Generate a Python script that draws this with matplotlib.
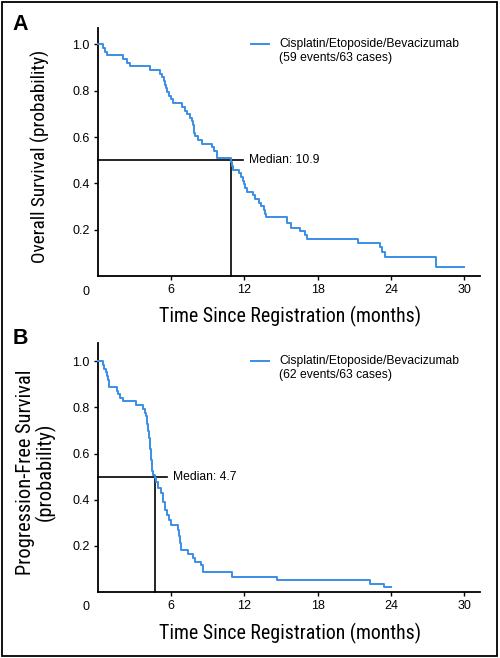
import matplotlib
matplotlib.use("Agg")
import matplotlib.pyplot as plt
import matplotlib.font_manager as fm
from matplotlib.font_manager import FontProperties
from matplotlib.patches import Rectangle

# ---------------- data ----------------
os_time = [0.46, 0.6, 0.8, 2.1, 2.4, 2.65, 4.3, 5.1, 5.25, 5.4, 5.5, 5.6, 5.7,
           5.85, 6.0, 6.2, 6.87, 7.14, 7.33, 7.55, 7.68, 7.78, 7.85, 7.9, 7.95,
           8.23, 8.5, 9.33, 9.55, 9.73, 9.8, 10.9, 11.0, 11.1, 11.6, 11.75,
           11.9, 12.0, 12.1, 12.2, 12.7, 12.9, 13.2, 13.4, 13.6, 13.7, 13.8,
           15.5, 15.8, 16.55, 16.96, 17.1, 21.33, 23.1, 23.24, 23.5, 27.68]
os_surv = [0.984, 0.968, 0.952, 0.937, 0.921, 0.905, 0.889, 0.873, 0.857, 0.841,
           0.825, 0.810, 0.794, 0.778, 0.762, 0.746, 0.730, 0.714, 0.698, 0.683,
           0.667, 0.651, 0.635, 0.619, 0.603, 0.587, 0.571, 0.556, 0.540, 0.524,
           0.508, 0.492, 0.476, 0.460, 0.444, 0.428, 0.412, 0.397, 0.381, 0.365,
           0.349, 0.333, 0.317, 0.302, 0.286, 0.270, 0.254, 0.228, 0.207, 0.193,
           0.178, 0.161, 0.145, 0.128, 0.106, 0.082, 0.041]
os_end = 30.0

pfs_time = [0.46, 0.55, 0.65, 0.75, 0.82, 0.92, 1.6, 1.7, 1.82, 2.04, 3.13, 3.73,
            3.9, 3.97, 4.0, 4.04, 4.08, 4.12, 4.16, 4.2, 4.25, 4.29, 4.33, 4.37,
            4.42, 4.48, 4.55, 4.7, 4.77, 4.96, 5.18, 5.32, 5.51, 5.7, 5.86, 5.97,
            6.6, 6.68, 6.75, 6.82, 7.42, 7.82, 7.96, 8.43, 8.6, 10.96, 14.65,
            22.28, 23.46]
pfs_surv = [0.984, 0.968, 0.952, 0.937, 0.921, 0.889, 0.873, 0.857, 0.841, 0.826,
            0.810, 0.794, 0.778, 0.762, 0.746, 0.730, 0.714, 0.698, 0.683, 0.667,
            0.635, 0.619, 0.587, 0.571, 0.540, 0.524, 0.508, 0.492, 0.476, 0.45,
            0.43, 0.39, 0.355, 0.333, 0.312, 0.290, 0.268, 0.240, 0.210, 0.181,
            0.164, 0.148, 0.131, 0.115, 0.085, 0.065, 0.051, 0.033, 0.019]
pfs_end = 24.0

x_ticks = [6, 12, 18, 24, 30]
y_ticks = [0.2, 0.4, 0.6, 0.8, 1.0]
y_ticklabels = ["0.2", "0.4", "0.6", "0.8", "1.0"]

os_median = 10.9
pfs_median = 4.7
legend_name = "Cisplatin/Etoposide/Bevacizumab"
os_counts = "(59 events/63 cases)"
pfs_counts = "(62 events/63 cases)"
xlabel_text = "Time Since Registration (months)"
os_ylabel = "Overall Survival (probability)"
pfs_ylabel = ["Progression-Free Survival", "(probability)"]

# ---------------- styling ----------------
BLUE = "#3a8ee6"
W, H = 500, 658
fig = plt.figure(figsize=(W / 100, H / 100), dpi=100)
fig.patch.set_facecolor("white")
SANS = ["Liberation Sans", "DejaVu Sans"]


def find_condensed():
    prefs = ["Liberation Sans Narrow", "Roboto Condensed", "Open Sans Condensed",
             "Noto Sans Condensed", "DejaVu Sans Condensed"]
    entries = fm.fontManager.ttflist
    for p in prefs:
        for f in entries:
            if f.name == p and f.style == "normal" and str(f.weight) in ("400", "normal"):
                return FontProperties(fname=f.fname)
    for f in entries:
        if f.style == "normal" and str(f.weight) in ("400", "normal") and \
                str(f.stretch) in ("condensed", "semi-condensed", "62.5", "75", "87.5"):
            return FontProperties(fname=f.fname)
    return FontProperties(family=SANS)


COND = find_condensed()
renderer = fig.canvas.get_renderer()


def fitted(text, target_px, base=14.5):
    fp = COND.copy()
    fp.set_size(base)
    t = fig.text(0, 0, text, fontproperties=fp)
    w = t.get_window_extent(renderer).width
    t.remove()
    size = base * target_px / w
    return min(size, 15.5)


def px_axes(left, right, top, bottom):
    return fig.add_axes([left / W, 1 - bottom / H, (right - left) / W, (bottom - top) / H])


def setup(ax, ytop, xlab_y):
    ax.set_xlim(0, 31.3)
    ax.set_ylim(0, ytop)
    for s in ("top", "right"):
        ax.spines[s].set_visible(False)
    for s in ("left", "bottom"):
        ax.spines[s].set_linewidth(1.3)
        ax.spines[s].set_color("black")
    ax.set_xticks(x_ticks)
    ax.set_xticklabels([str(v) for v in x_ticks])
    ax.set_yticks(y_ticks)
    ax.set_yticklabels(y_ticklabels)
    ax.tick_params(direction="out", length=3.2, width=1.0, pad=2.5, labelsize=9,
                   colors="black")
    for lab in ax.get_xticklabels() + ax.get_yticklabels():
        lab.set_fontfamily(SANS)
    ax.annotate("0", xy=(0, 0), xycoords="data", xytext=(-8.4, -11.0),
                textcoords="offset points", ha="center", va="center",
                fontsize=9, family=SANS)
    fp = COND.copy()
    fp.set_size(fitted(xlabel_text, 262))
    ax.set_xlabel(xlabel_text, fontproperties=fp)
    ax.xaxis.set_label_coords(0.503, xlab_y)
    ax.xaxis.label.set_va("center")


def km(ax, t, s, end, median, hline_end, text_x, counts, leg_y1, leg_y2):
    tt = [0.0] + list(t) + [end]
    ss = [1.0] + list(s) + [s[-1]]
    ax.step(tt, ss, where="post", color=BLUE, lw=1.4, zorder=3, clip_on=False)
    ax.plot([0, hline_end], [0.5, 0.5], color="black", lw=1.2, zorder=2, clip_on=False)
    ax.plot([median, median], [0, 0.5], color="black", lw=1.2, zorder=2, clip_on=False)
    ax.text(text_x, 0.5, f"Median: {median}", fontsize=8.7, family=SANS,
            ha="left", va="center")
    ax.plot([0.401, 0.448], [leg_y1, leg_y1], transform=ax.transAxes, color=BLUE,
            lw=1.4, clip_on=False)
    ax.text(0.474, leg_y1, legend_name, transform=ax.transAxes, fontsize=8.7,
            family=SANS, ha="left", va="center")
    ax.text(0.474, leg_y2, counts, transform=ax.transAxes, fontsize=8.7,
            family=SANS, ha="left", va="center")


# Panel A
axA = px_axes(97.7, 480, 28, 276.25)
setup(axA, 1.07, (276.25 - 316.7) / 248.25)
km(axA, os_time, os_surv, os_end, os_median, 11.9, 12.38, os_counts,
   (276.25 - 43.5) / 248.25, (276.25 - 57.5) / 248.25)
fpA = COND.copy()
fpA.set_size(fitted(os_ylabel, 213))
axA.set_ylabel(os_ylabel, fontproperties=fpA)
axA.yaxis.set_label_coords((40 - 97.7) / 382.3, (276.25 - 156) / 248.25)
axA.yaxis.label.set_va("center")

# Panel B
axB = px_axes(97.7, 480, 343, 591.7)
setup(axB, 1.08, (591.7 - 633) / 248.7)
km(axB, pfs_time, pfs_surv, pfs_end, pfs_median, 5.65, 6.14, pfs_counts,
   (591.7 - 361) / 248.7, (591.7 - 375) / 248.7)
fpB = COND.copy()
fpB.set_size(fitted(pfs_ylabel[0], 205))
axB.set_ylabel("\n".join(pfs_ylabel), fontproperties=fpB, linespacing=0.95)
axB.yaxis.set_label_coords((36 - 97.7) / 382.3, (591.7 - 472) / 248.7)
axB.yaxis.label.set_va("center")

# Panel letters
fig.text(20.5 / W, 1 - 24 / H, "A", fontsize=15.5, fontweight="bold", family=SANS,
         ha="center", va="center")
fig.text(20.5 / W, 1 - 339 / H, "B", fontsize=15.5, fontweight="bold", family=SANS,
         ha="center", va="center")

# Figure frame
fig.patches.append(Rectangle((1.5 / W, 2 / H), 495 / W, 654 / H, transform=fig.transFigure,
                             fill=False, edgecolor="black", lw=1.3))

fig.savefig("out.png", dpi=100)
